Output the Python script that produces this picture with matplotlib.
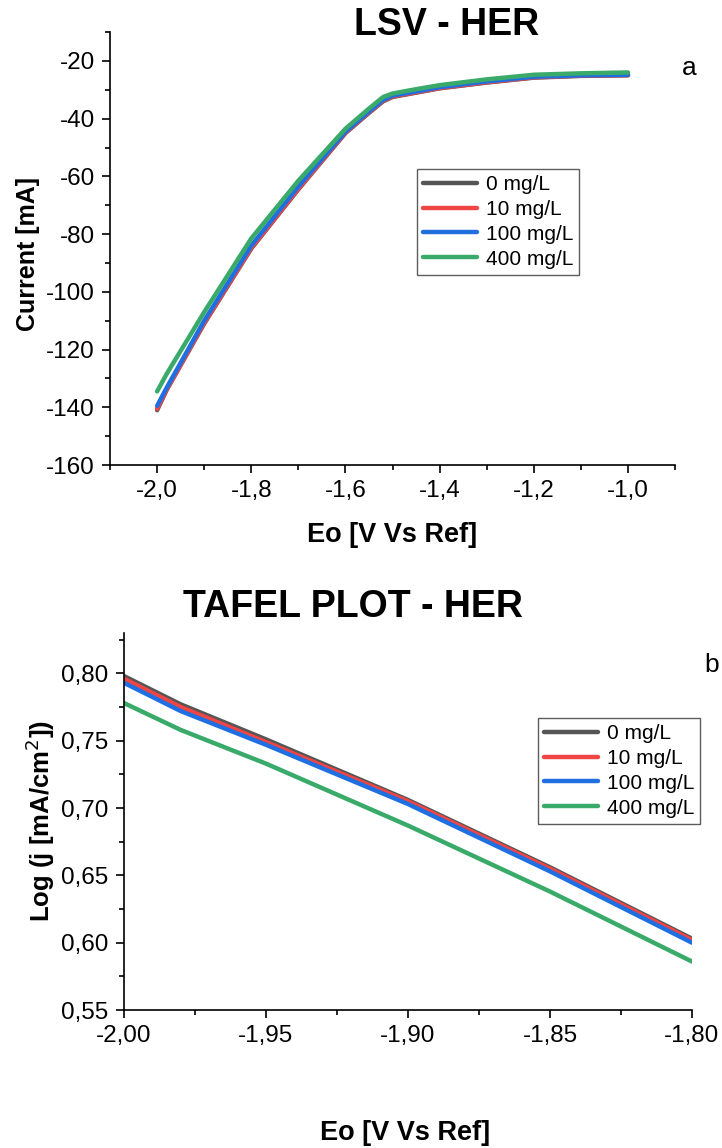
import matplotlib
matplotlib.use("Agg")
import matplotlib.pyplot as plt
from matplotlib.ticker import MultipleLocator, FuncFormatter

plt.rcParams['font.family'] = ['Liberation Sans', 'DejaVu Sans']
plt.rcParams['axes.unicode_minus'] = False

labels = ['0 mg/L', '10 mg/L', '100 mg/L', '400 mg/L']
colors = ['#555555', '#f04545', '#1f6fe0', '#3aaa6a']

# LSV - HER data
lsv_e = [-2.0, -1.98, -1.9, -1.8, -1.7, -1.6, -1.55, -1.52, -1.5, -1.45, -1.4, -1.3, -1.2, -1.1, -1.0]
lsv_0 = [-141, -134, -111, -85, -64.5, -45, -38, -34, -32.5, -31, -29.5, -27.5, -25.8, -25.2, -25]
lsv_10 = [-140.5, -134, -110.8, -84.8, -64.3, -44.8, -37.8, -33.8, -32.3, -30.9, -29.4, -27.4, -25.7, -25.1, -24.9]
lsv_100 = [-139.5, -133.3, -110, -84, -63.5, -44.5, -37.5, -33.5, -32, -30.6, -29.1, -27.1, -25.5, -25, -24.8]
lsv_400 = [-134.5, -128.5, -107, -81.5, -61.5, -43.5, -36.5, -32.5, -31.3, -29.8, -28.4, -26.4, -24.8, -24.3, -24]

# Tafel data
taf_e = [-2.0, -1.98, -1.95, -1.90, -1.85, -1.80]
taf_0 = [0.798, 0.777, 0.751, 0.706, 0.656, 0.603]
taf_10 = [0.796, 0.775, 0.749, 0.705, 0.655, 0.602]
taf_100 = [0.793, 0.772, 0.747, 0.703, 0.653, 0.600]
taf_400 = [0.778, 0.758, 0.733, 0.687, 0.638, 0.586]

fig = plt.figure(figsize=(7.22, 11.48), dpi=100)

def comma(fmt):
    return FuncFormatter(lambda v, p: (fmt % v).replace('.', ','))

def style(ax):
    for s in ['top', 'right']:
        ax.spines[s].set_visible(False)
    for s in ['left', 'bottom']:
        ax.spines[s].set_linewidth(1.2)
    ax.tick_params(which='major', direction='out', length=6, width=1.2, labelsize=17.5)
    ax.tick_params(which='minor', direction='out', length=3.5, width=1.2)
    ax.tick_params(axis='x', which='major', pad=5)
    ax.tick_params(axis='y', which='major', pad=5)

def legend(ax, anchor):
    leg = ax.legend(loc='upper left', bbox_to_anchor=anchor, fontsize=15,
                    frameon=True, fancybox=False, handlelength=2.6, handletextpad=0.4,
                    borderpad=0.3, labelspacing=0.28, borderaxespad=0)
    leg.get_frame().set_edgecolor('#333333')
    leg.get_frame().set_linewidth(1.0)

# top panel
ax1 = fig.add_axes([0.1524, 0.5949, 0.7826, 0.3772])
for y, c, l in zip([lsv_0, lsv_10, lsv_100, lsv_400], colors, labels):
    ax1.plot(lsv_e, y, color=c, lw=3.2, label=l, solid_capstyle='round')
ax1.set_xlim(-2.1, -0.9)
ax1.xaxis.set_major_locator(MultipleLocator(0.2))
ax1.xaxis.set_minor_locator(MultipleLocator(0.1))
ax1.yaxis.set_minor_locator(MultipleLocator(10))
ax1.xaxis.set_major_formatter(comma('%.1f'))
ax1.set_yticks(range(-160, 0, 20))
ax1.set_ylim(-160, -10)
style(ax1)
ax1.set_xlabel('Eo [V Vs Ref]', fontsize=19.5, fontweight='bold')
ax1.xaxis.set_label_coords(0.499, -0.162)
ax1.xaxis.label.set_va('center')
ax1.set_ylabel('Current [mA]', fontsize=18, fontweight='bold')
ax1.yaxis.set_label_coords(-0.145, 0.487)
ax1.yaxis.label.set_va('center')
legend(ax1, (0.543, 0.684))
fig.text(0.619, 0.978, 'LSV - HER', ha='center', va='center', fontsize=27, fontweight='bold')
fig.text(0.955, 0.941, 'a', ha='center', va='center', fontsize=19)

# bottom panel
ax2 = fig.add_axes([0.1717, 0.1202, 0.7867, 0.3284])
for y, c, l in zip([taf_0, taf_10, taf_100, taf_400], colors, labels):
    ax2.plot(taf_e, y, color=c, lw=3.2, label=l, solid_capstyle='round')
ax2.set_xlim(-2.0, -1.8)
ax2.set_ylim(0.55, 0.83)
ax2.xaxis.set_major_locator(MultipleLocator(0.05))
ax2.xaxis.set_minor_locator(MultipleLocator(0.025))
ax2.yaxis.set_major_locator(MultipleLocator(0.05))
ax2.yaxis.set_minor_locator(MultipleLocator(0.025))
ax2.xaxis.set_major_formatter(comma('%.2f'))
ax2.yaxis.set_major_formatter(comma('%.2f'))
style(ax2)
ax2.set_xlabel('Eo [V Vs Ref]', fontsize=19.5, fontweight='bold')
ax2.xaxis.set_label_coords(0.495, -0.326)
ax2.xaxis.label.set_va('center')
ax2.set_ylabel('Log (j [mA/cm$^2$])', fontsize=18.5, fontweight='bold')
ax2.yaxis.set_label_coords(-0.148, 0.5)
ax2.yaxis.label.set_va('center')
legend(ax2, (0.729, 0.775))
fig.text(0.489, 0.471, 'TAFEL PLOT - HER', ha='center', va='center', fontsize=27, fontweight='bold')
fig.text(0.986, 0.421, 'b', ha='center', va='center', fontsize=19)

fig.savefig('out.png', dpi=100, facecolor='white')
